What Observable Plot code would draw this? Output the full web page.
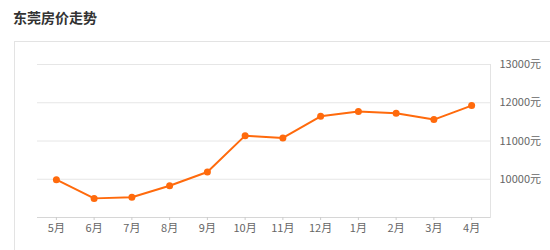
<!DOCTYPE html>
<html>
<head>
<meta charset="utf-8">
<script src="https://cdn.jsdelivr.net/npm/d3@7"></script>
<script src="https://cdn.jsdelivr.net/npm/@observablehq/plot@0.6"></script>
<style>
  body { margin: 0; background: #fff; width: 550px; height: 250px; overflow: hidden; position: relative; font-family: "Noto Sans CJK SC", "Noto Sans", sans-serif; }
  #title { position: absolute; left: 13px; top: 7px; font-size: 14px; font-weight: bold; color: #333; line-height: 20px; }
  #card { position: absolute; left: 14px; top: 41px; width: 600px; height: 260px; border-top: 1px solid #e3e3e3; border-left: 1px solid #e3e3e3; box-sizing: border-box; }
  #chart { position: absolute; left: 0; top: 41px; }
</style>
</head>
<body>
<div id="title">东莞房价走势</div>
<div id="card"></div>
<div id="chart"></div>
<script>
const months = ["5月","6月","7月","8月","9月","10月","11月","12月","1月","2月","3月","4月"];
const prices = [9990, 9500, 9530, 9830, 10190, 11140, 11080, 11645, 11770, 11725, 11560, 11925];
const yTicks = [10000, 11000, 12000, 13000];

const data = months.map((m, i) => ({month: m, price: prices[i]}));

const chart = Plot.plot({
  width: 550,
  height: 209,
  marginLeft: 37,
  marginRight: 60,
  marginTop: 23,
  marginBottom: 33,
  style: {fontFamily: '"Noto Sans CJK SC", "Noto Sans", sans-serif', fontSize: "11px", color: "#666", background: "transparent"},
  x: {domain: months, type: "band", padding: 0, round: false, label: null},
  y: {domain: [9000, 13000], label: null},
  marks: [
    Plot.ruleY(yTicks, {stroke: "#e6e6e6", strokeWidth: 1}),
    Plot.ruleY([9000], {stroke: "#d6d6d6", strokeWidth: 1}),
    Plot.frame({anchor: "right", stroke: "#e3e3e3"}),
    Plot.axisY({anchor: "right", ticks: yTicks, tickSize: 0, tickPadding: 9, tickFormat: d => d + "元", fill: "#666", label: null}),
    Plot.axisX({anchor: "bottom", tickSize: 3, stroke: "#cccccc", tickPadding: 4, fill: "#666", label: null}),
    Plot.line(data, {x: "month", y: "price", stroke: "#ff6a0c", strokeWidth: 2}),
    Plot.dot(data, {x: "month", y: "price", fill: "#ff6a0c", r: 3.5})
  ]
});
document.getElementById("chart").appendChild(chart);
</script>
</body>
</html>
